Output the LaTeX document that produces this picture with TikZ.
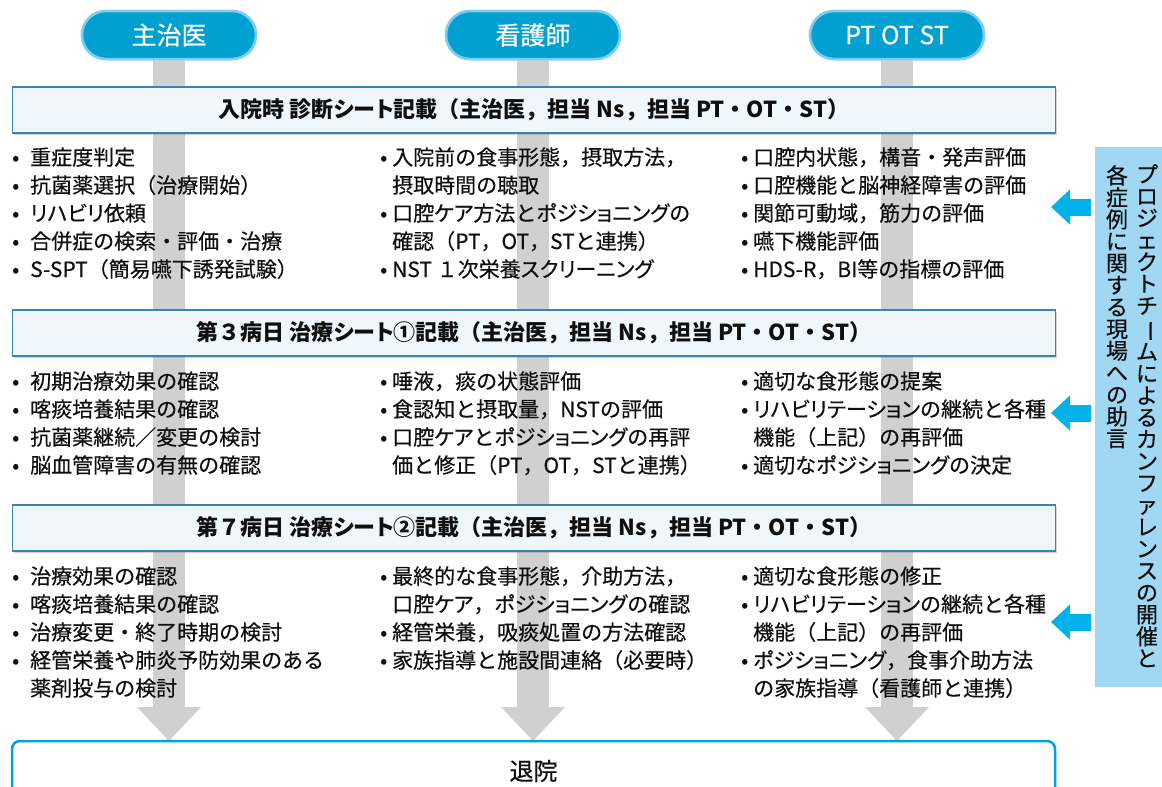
\documentclass[tikz,border=0pt]{standalone}
\usepackage{fontspec}
\setmainfont{Noto Sans CJK JP}[UprightFeatures={FakeBold=0.4}]
\newfontfamily\kana{Noto Sans CJK JP}[RawFeature=+palt, UprightFeatures={FakeBold=0.4}]
\usetikzlibrary{arrows.meta,shadows}
\definecolor{pillblue}{RGB}{0,160,208}
\definecolor{pillrim}{RGB}{128,205,240}
\definecolor{stripe}{RGB}{208,208,208}
\definecolor{hdrfill}{RGB}{239,247,252}
\definecolor{hdrline}{RGB}{62,130,175}
\definecolor{sidefill}{RGB}{160,215,242}
\definecolor{arrowblue}{RGB}{0,178,232}
\definecolor{endline}{RGB}{0,160,228}
\definecolor{txt}{RGB}{15,15,15}
\newcommand\mybul[1]{\makebox[#1][l]{•}}
\newcommand\kn[1]{{\kana #1}}
\newcommand\vbar{\rotatebox[origin=c]{-90}{ー}}
\begin{document}
\begin{tikzpicture}[x=1pt,y=-1pt,
  pill/.style={draw=pillrim, line width=2.5pt, fill=pillblue, rounded corners=24pt,
    minimum width=174pt, minimum height=48pt, text=white,
    font=\fontsize{25}{28}\selectfont, inner sep=0pt},
  downarr/.style={draw=stripe, line width=32pt, -{Triangle[width=62pt,length=34pt]}},
  hdr/.style={draw=hdrline, line width=1.6pt, fill=hdrfill, minimum width=1043pt,
    minimum height=46pt, inner sep=0pt, text=txt,
    font=\fontsize{22}{24}\selectfont\bfseries,
    drop shadow={shadow xshift=1.5pt, shadow yshift=-1.5pt, opacity=0.35}},
  ln/.style={anchor=base west, inner sep=0pt, text=txt, font=\fontsize{21}{24}\selectfont},
  sidebox/.style={fill=sidefill, minimum width=67pt, minimum height=540pt, inner sep=0pt},
  vtext/.style={anchor=north, align=center, inner sep=0pt, text=txt,
    font=\fontsize{22}{21.9}\selectfont},
  sidearr/.style={draw=arrowblue, line width=17pt, shorten <=4pt,
    -{Triangle[width=34pt,length=19pt]}},
  endbox/.style={draw=endline, line width=2.5pt, fill=white, rounded corners=8pt,
    minimum width=1043pt, minimum height=60pt, inner sep=0pt, text=txt,
    font=\fontsize{24}{26}\selectfont}
]
\useasboundingbox (0,0) rectangle (1162,787);

% arrow tips
\coordinate (t1) at (169,741);
\coordinate (t2) at (533,741);
\coordinate (t3) at (897,741);

% role pills
\node[pill] (p1) at (169,35) {主治医};
\node[pill] (p2) at (533,35) {看護師};
\node[pill] (p3) at (897,35) {PT OT ST};

% gray flow stripes
\draw[downarr] (p1.south) -- (t1);
\draw[downarr] (p2.south) -- (t2);
\draw[downarr] (p3.south) -- (t3);
% pills again, above the stripes
\node[pill] (q1) at (p1) {主治医};
\node[pill] (q2) at (p2) {看護師};
\node[pill] (q3) at (p3) {PT OT ST};

% header bars
\node[hdr] (h1) at (534,110) {入院時 診断\kn{シート}記載（主治医，担当 Ns，担当 PT・OT・ST）};
\node[hdr] (h2) at (534,333) {第３病日 治療\kn{シート}①記載（主治医，担当 Ns，担当 PT・OT・ST）};
\node[hdr] (h3) at (534,528) {第７病日 治療\kn{シート}②記載（主治医，担当 Ns，担当 PT・OT・ST）};

% row 1
\node[ln] (a1) at (12,165) {\mybul{18pt}重症度判定};
\node[ln] (a2) at (12,193) {\mybul{18pt}抗菌薬選択（治療開始）};
\node[ln] (a3) at (12,221) {\mybul{18pt}\kn{リハビリ}依頼};
\node[ln] (a4) at (12,249) {\mybul{18pt}合併症の検索・評価・治療};
\node[ln] (a5) at (12,277) {\mybul{18pt}S-SPT（簡易嚥下誘発試験）};

\node[ln] (b1) at (380,165) {\mybul{12pt}入院前の食事形態，摂取方法，};
\node[ln] (b2) at (380,193) {\hspace{12pt}摂取時間の聴取};
\node[ln] (b3) at (380,221) {\mybul{12pt}口腔\kn{ケア}方法と\kn{ポジショニング}の};
\node[ln] (b4) at (380,249) {\hspace{12pt}確認（PT，OT，STと連携）};
\node[ln] (b5) at (380,277) {\mybul{12pt}NST １次栄養\kn{スクリーニング}};

\node[ln] (c1) at (741,165) {\mybul{12pt}口腔内状態，構音・発声評価};
\node[ln] (c2) at (741,193) {\mybul{12pt}口腔機能と脳神経障害の評価};
\node[ln] (c3) at (741,221) {\mybul{12pt}関節可動域，筋力の評価};
\node[ln] (c4) at (741,249) {\mybul{12pt}嚥下機能評価};
\node[ln] (c5) at (741,277) {\mybul{12pt}HDS-R，BI等の指標の評価};

% row 2
\node[ln] (d1) at (12,389) {\mybul{18pt}初期治療効果の確認};
\node[ln] (d2) at (12,417) {\mybul{18pt}喀痰培養結果の確認};
\node[ln] (d3) at (12,445) {\mybul{18pt}抗菌薬継続／変更の検討};
\node[ln] (d4) at (12,473) {\mybul{18pt}脳血管障害の有無の確認};

\node[ln] (e1) at (380,389) {\mybul{12pt}唾液，痰の状態評価};
\node[ln] (e2) at (380,417) {\mybul{12pt}食認知と摂取量，NSTの評価};
\node[ln] (e3) at (380,445) {\mybul{12pt}口腔\kn{ケア}と\kn{ポジショニング}の再評};
\node[ln] (e4) at (380,473) {\hspace{12pt}価と修正（PT，OT，STと連携）};

\node[ln] (f1) at (741,389) {\mybul{12pt}適切な食形態の提案};
\node[ln] (f2) at (741,417) {\mybul{12pt}\kn{リハビリテーション}の継続と各種};
\node[ln] (f3) at (741,445) {\hspace{12pt}機能（上記）の再評価};
\node[ln] (f4) at (741,473) {\mybul{12pt}適切な\kn{ポジショニング}の決定};

% row 3
\node[ln] (g1) at (12,584) {\mybul{18pt}治療効果の確認};
\node[ln] (g2) at (12,612) {\mybul{18pt}喀痰培養結果の確認};
\node[ln] (g3) at (12,640) {\mybul{18pt}治療変更・終了時期の検討};
\node[ln] (g4) at (12,668) {\mybul{18pt}経管栄養や肺炎予防効果のある};
\node[ln] (g5) at (12,696) {\hspace{18pt}薬剤投与の検討};

\node[ln] (k1) at (380,584) {\mybul{12pt}最終的な食事形態，介助方法，};
\node[ln] (k2) at (380,612) {\hspace{12pt}口腔\kn{ケア}，\kn{ポジショニング}の確認};
\node[ln] (k3) at (380,640) {\mybul{12pt}経管栄養，吸痰処置の方法確認};
\node[ln] (k4) at (380,668) {\mybul{12pt}家族指導と施設間連絡（必要時）};

\node[ln] (m1) at (741,584) {\mybul{12pt}適切な食形態の修正};
\node[ln] (m2) at (741,612) {\mybul{12pt}\kn{リハビリテーション}の継続と各種};
\node[ln] (m3) at (741,640) {\hspace{12pt}機能（上記）の再評価};
\node[ln] (m4) at (741,668) {\mybul{12pt}\kn{ポジショニング}，食事介助方法};
\node[ln] (m5) at (741,696) {\hspace{12pt}の家族指導（看護師と連携）};

% side box
\node[sidebox] (sb) at (1128.5,417) {};
\node[vtext] (v1) at (1147,164) {プ\\ロ\\ジ\\ェ\\ク\\ト\\チ\\\vbar\\ム\\に\\よ\\る\\カ\\ン\\フ\\ァ\\レ\\ン\\ス\\の\\開\\催\\と};
\node[vtext] (v2) at (1117,165) {各\\症\\例\\に\\関\\す\\る\\現\\場\\へ\\の\\助\\言};

% side arrows
\coordinate (s1) at (1051,207);
\coordinate (s2) at (1051,413);
\coordinate (s3) at (1051,622);
\draw[sidearr] (sb.west |- s1) -- (s1);
\draw[sidearr] (sb.west |- s2) -- (s2);
\draw[sidearr] (sb.west |- s3) -- (s3);

% discharge box
\node[endbox] (dis) at (533.5,771) {退院};
\end{tikzpicture}
\end{document}
